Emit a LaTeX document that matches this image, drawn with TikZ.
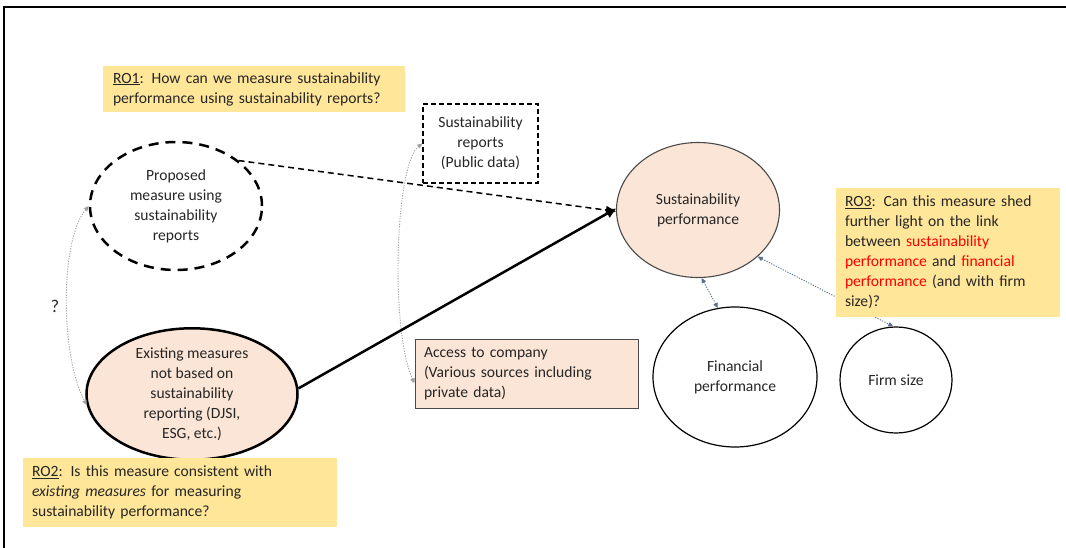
\documentclass[tikz,border=0pt]{standalone}
\usepackage{fontspec}
\setmainfont{Carlito}
\usetikzlibrary{shapes.geometric,arrows.meta}
\definecolor{roYellow}{HTML}{FFE699}
\definecolor{peach}{HTML}{FBE5D6}
\definecolor{slate}{HTML}{5B6F8C}
\definecolor{softgrey}{HTML}{A0A0A0}
\definecolor{rimgrey}{HTML}{4A4A4A}
\definecolor{hl}{HTML}{FF0000}
\begin{document}
\begin{tikzpicture}[x=1pt,y=-1pt,
  every node/.style={font=\fontsize{15.6}{20}\selectfont, inner sep=0pt, text=black!85},
  rqbox/.style={rectangle, fill=roYellow, align=left, inner xsep=9pt},
  oval/.style={ellipse, align=center},
  dotlink/.style={line width=0.9pt, dash pattern=on 1.2pt off 1.4pt,
    {Triangle[length=5pt,width=4.5pt]}-{Triangle[length=5pt,width=4.5pt]}},
]
\useasboundingbox (0,0) rectangle (1066,548);

% outer frame (top and left edges)
\draw[line width=2.5pt] (4,548) -- (4,7) -- (1066,7);

% research question RO1
\node[rqbox, text width=282pt, minimum height=46pt, inner xsep=10pt] (ro1) at (254,89)
  {\underline{RO1}: How can we measure sustainability\\performance using sustainability reports?};

% measures
\node[oval, draw, line width=2.5pt, dash pattern=on 10pt off 7pt,
      minimum width=172pt, minimum height=128pt] (prop) at (176,206)
  {Proposed\\measure using\\sustainability\\reports};
\node[oval, draw, fill=peach, line width=2.5pt,
      minimum width=211pt, minimum height=118pt] (ex) at (192,394)
  {Existing measures\\not based on\\sustainability\\reporting (DJSI,\\ESG, etc.)};
\node[font=\fontsize{18}{20}\selectfont] (q) at (55,306) {?};

% data sources
\node[rectangle, draw, line width=1.4pt, dash pattern=on 5pt off 3pt, align=center,
      minimum width=115pt, minimum height=79pt] (sr) at (480.5,143.5)
  {Sustainability\\reports\\(Public data)};
\node[rectangle, draw=rimgrey, fill=peach, line width=1pt, align=left,
      text width=205pt, inner xsep=9pt, minimum height=69pt] (acc) at (526.5,373.5)
  {Access to company\\(Various sources including\\private data)};

% performance constructs
\node[oval, draw=rimgrey, fill=peach, line width=1.1pt,
      minimum width=163pt, minimum height=135pt] (sp) at (698,210)
  {Sustainability\\performance};
\node[oval, draw, line width=1.2pt,
      minimum width=164pt, minimum height=140pt] (fin) at (735,377)
  {Financial\\performance};
\node[oval, draw, line width=1.2pt,
      minimum width=112pt, minimum height=106pt] (firm) at (896,380)
  {Firm size};

% connectors
\draw[softgrey, dotlink] (prop.west) .. controls (60,240) and (60,355) .. (ex.186);
\draw[softgrey, dotlink] (sr.west) .. controls (395,165) and (390,330) .. (acc.185);
\draw[line width=1.5pt, dash pattern=on 6pt off 4pt, -{Triangle[length=10pt,width=8pt]}]
  (prop.36) -- (sp.181);
\draw[line width=2.5pt, -{Triangle[length=10pt,width=9pt]}] (ex.3) -- (sp.179);
\draw[slate, dotlink] (sp.273) -- (fin.104);
\draw[slate, dotlink] (sp.322) -- (firm.93);

% research questions RO2 and RO3
\node[rqbox, text width=206pt, minimum height=129pt] (ro3) at (948,252.5)
  {\underline{RO3}: Can this measure shed\\further light on the link\\between \textcolor{hl}{sustainability}\\\textcolor{hl}{performance} and \textcolor{hl}{financial}\\\textcolor{hl}{performance} (and with firm\\size)?};
\node[rqbox, text width=296pt, minimum height=69pt] (ro2) at (180,492.5)
  {\underline{RO2}: Is this measure consistent with\\\textit{existing measures} for measuring\\sustainability performance?};
\end{tikzpicture}
\end{document}
